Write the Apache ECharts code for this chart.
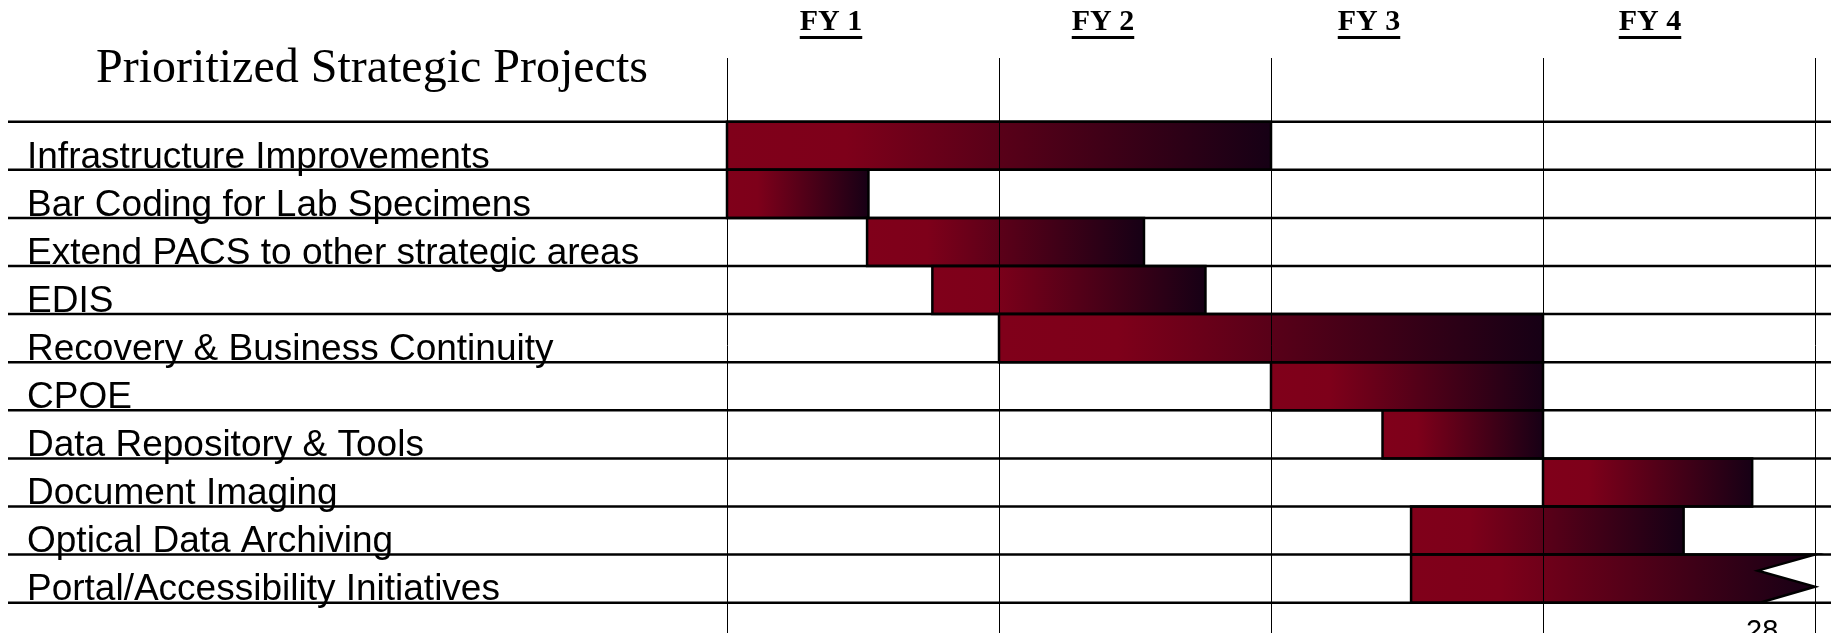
<!DOCTYPE html>
<html><head><meta charset="utf-8">
<script src="https://cdn.jsdelivr.net/npm/echarts@6/dist/echarts.min.js"></script>
<style>html,body{margin:0;padding:0;background:#fff}#c{width:1835px;height:633px}</style>
</head><body><div id="c"></div>
<script>
// ---- data ----
const chartTitle = 'Prioritized Strategic Projects';
const fiscalYears = ['FY 1', 'FY 2', 'FY 3', 'FY 4'];
const projects = [
  'Infrastructure Improvements',
  'Bar Coding for Lab Specimens',
  'Extend PACS to other strategic areas',
  'EDIS',
  'Recovery & Business Continuity',
  'CPOE',
  'Data Repository & Tools',
  'Document Imaging',
  'Optical Data Archiving',
  'Portal/Accessibility Initiatives'
];
// start / end measured in fiscal years from the start of FY 1
const startFY = [0, 0, 0.515, 0.755, 1.0, 2.0, 2.41, 3.0, 2.515, 2.515];
const endFY   = [2.0, 0.52, 1.533, 1.759, 3.0, 3.0, 3.0, 3.769, 3.517, 4.0];
const continuesBeyond = [0, 0, 0, 0, 0, 0, 0, 0, 0, 1];
const yearBoundaries = [0, 1, 2, 3, 4];
const pageNumber = '28';

// ---- layout ----
const ROW_TOP = 121.7, ROW_H = 48.1, GRID_TOP = 58, CH = 633;
const yMin = -(ROW_TOP - GRID_TOP) / ROW_H;
const yMax = (CH - ROW_TOP) / ROW_H;
const headerShift = [-32, -32, -38, -29];

const barData = projects.map((p, i) => [startFY[i], i, endFY[i], continuesBeyond[i]]);
const rowLineData = projects.map((p, i) => [0, i]).concat([[0, projects.length]]);
const labelData = projects.map((p, i) => [0, i]);
const fyData = fiscalYears.map((f, i) => [i + 0.5, 0]);
const vLineData = yearBoundaries.map(v => [v, 0]);

const measureCtx = document.createElement('canvas').getContext('2d');
function textWidth(t, font) { measureCtx.font = font; return measureCtx.measureText(t).width; }

const chart = echarts.init(document.getElementById('c'), null, {renderer: 'canvas'});
const FY_FONT = 'bold 30px "Liberation Serif"';

chart.setOption({
  backgroundColor: '#fff',
  animation: false,
  title: {
    text: chartTitle, left: 367, top: 40, textAlign: 'center',
    textStyle: {fontFamily: 'Liberation Serif', fontWeight: 'normal', fontSize: 48, color: '#000'}
  },
  grid: {left: 727, right: 20, top: GRID_TOP, bottom: 0, containLabel: false},
  xAxis: {
    type: 'value', min: 0, max: 4, interval: 1,
    axisLine: {show: false}, axisTick: {show: false}, axisLabel: {show: false},
    splitLine: {show: false}
  },
  yAxis: {
    type: 'value', inverse: true, min: yMin, max: yMax, show: false,
    splitLine: {show: false}
  },
  series: [
    {
      type: 'custom', name: 'bars', z: 2, clip: false,
      data: barData,
      encode: {x: [0, 2], y: 1},
      renderItem: function (params, api) {
        const s = api.value(0), r = api.value(1), e = api.value(2), arrow = api.value(3);
        const p0 = api.coord([s, r]), p1 = api.coord([e, r + 1]);
        const x0 = p0[0], y0 = p0[1], x1 = p1[0], y1 = p1[1], h = y1 - y0;
        const fill = new echarts.graphic.LinearGradient(0, 0, 1, 0, [
          {offset: 0, color: '#80001a'},
          {offset: 0.22, color: '#7e001a'},
          {offset: 1, color: '#160015'}
        ]);
        const style = {fill: fill, stroke: '#000', lineWidth: 2.5};
        if (arrow) {
          const d = api.size([0.21, 0])[0];
          return {type: 'polygon', shape: {points: [
            [x0, y0], [x1, y0], [x1 - d, y0 + h / 3], [x1, y0 + 2 * h / 3], [x1 - d + 2, y1], [x0, y1]
          ]}, style: style};
        }
        return {type: 'rect', shape: {x: x0, y: y0, width: x1 - x0, height: h}, style: style};
      }
    },
    {
      type: 'custom', name: 'yearLines', z: 4, clip: false, silent: true,
      data: vLineData,
      renderItem: function (params, api) {
        const x = Math.round(api.coord([api.value(0), 0])[0]) + 0.5;
        return {type: 'line', shape: {x1: x, y1: GRID_TOP, x2: x, y2: CH},
          style: {stroke: '#000', lineWidth: 1}};
      }
    },
    {
      type: 'custom', name: 'rowLines', z: 5, clip: false, silent: true,
      data: rowLineData,
      renderItem: function (params, api) {
        const y = api.coord([0, api.value(1)])[1];
        return {type: 'line', shape: {x1: 8, y1: y, x2: 1831, y2: y},
          style: {stroke: '#000', lineWidth: 2.5}};
      }
    },
    {
      type: 'custom', name: 'rowLabels', z: 6, clip: false, silent: true,
      data: labelData,
      renderItem: function (params, api) {
        const i = params.dataIndex;
        const yb = api.coord([0, api.value(1) + 1])[1];
        return {type: 'text', style: {
          text: projects[i], x: 27, y: yb - 12.5,
          font: '37px "Liberation Sans"', fill: '#000',
          align: 'left', verticalAlign: 'middle'
        }};
      }
    },
    {
      type: 'custom', name: 'fyHeader', z: 6, clip: false, silent: true,
      data: fyData,
      renderItem: function (params, api) {
        const i = params.dataIndex;
        const cx = api.coord([api.value(0), 0])[0] + headerShift[i];
        const w = textWidth(fiscalYears[i], FY_FONT);
        return {type: 'group', children: [
          {type: 'text', style: {text: fiscalYears[i], x: cx, y: 22.2, font: FY_FONT, fill: '#000',
            align: 'center', verticalAlign: 'middle'}},
          {type: 'line', shape: {x1: cx - w / 2, y1: 37.5, x2: cx + w / 2, y2: 37.5},
            style: {stroke: '#000', lineWidth: 3}}
        ]};
      }
    }
  ],
  graphic: [
    {type: 'text', left: 1746, top: 617, z: 10, style: {text: pageNumber, font: '29px "Liberation Sans"', fill: '#000'}}
  ]
});
</script></body></html>
